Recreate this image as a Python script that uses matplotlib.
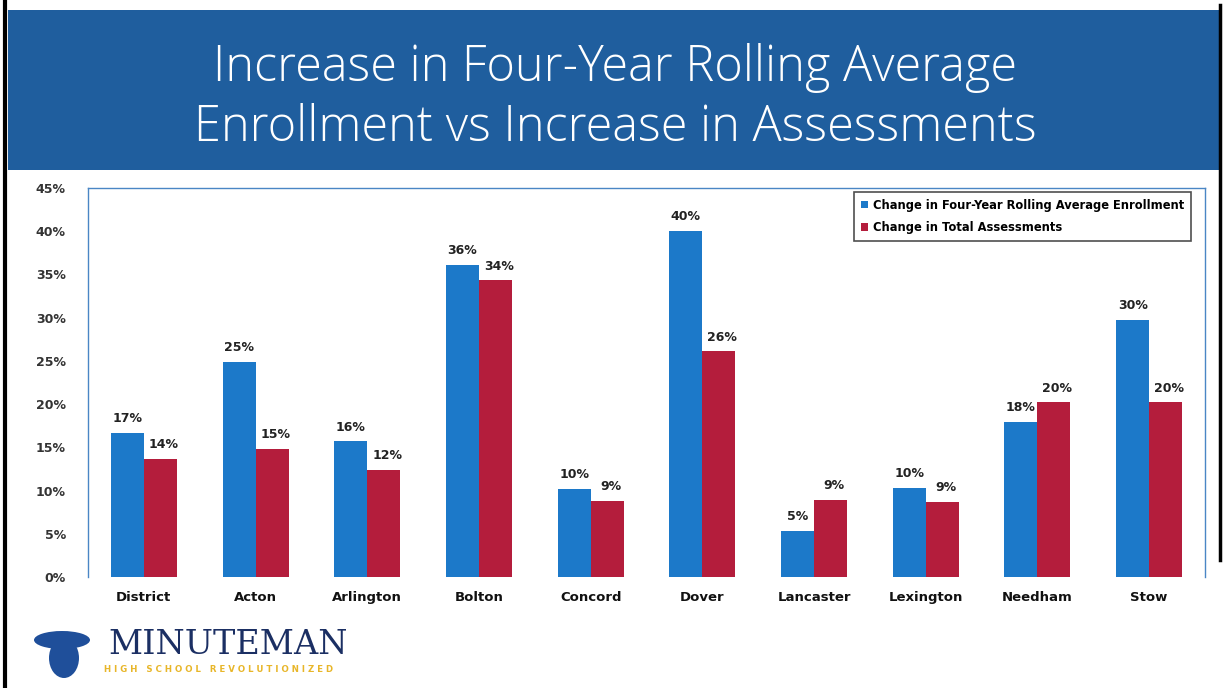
import numpy as np
import matplotlib.pyplot as plt
from matplotlib.patches import Rectangle, Ellipse
from matplotlib.lines import Line2D

towns = ['District', 'Acton', 'Arlington', 'Bolton', 'Concord', 'Dover',
         'Lancaster', 'Lexington', 'Needham', 'Stow']
enrollment = [16.7, 24.9, 15.7, 36.1, 10.2, 40.0, 5.3, 10.3, 17.9, 29.7]
assessments = [13.7, 14.8, 12.4, 34.3, 8.8, 26.1, 8.9, 8.7, 20.2, 20.2]
enroll_labels = ['17%', '25%', '16%', '36%', '10%', '40%', '5%', '10%', '18%', '30%']
assess_labels = ['14%', '15%', '12%', '34%', '9%', '26%', '9%', '9%', '20%', '20%']
yticks = [0, 5, 10, 15, 20, 25, 30, 35, 40, 45]

blue = '#1c79c9'
red = '#b41d3c'

fig = plt.figure(figsize=(12.24, 6.88), dpi=100)
W, H = 1224, 688

# title banner
fig.patches.append(Rectangle((8 / W, 1 - 170 / H), 1212 / W, 160 / H,
                             transform=fig.transFigure, facecolor='#1f5e9e',
                             edgecolor='none', zorder=0))
fig.text(615 / W, 1 - 68 / H, 'Increase in Four-Year Rolling Average',
         color='white', fontsize=35, ha='center', va='center', family='Open Sans',
         fontweight='light')
fig.text(615 / W, 1 - 128 / H, 'Enrollment vs Increase in Assessments',
         color='white', fontsize=35, ha='center', va='center', family='Open Sans',
         fontweight='light')

# slide border lines
fig.lines.append(Line2D([5 / W, 5 / W], [0, 1], transform=fig.transFigure,
                        color='black', lw=3))
fig.lines.append(Line2D([1220 / W, 1220 / W], [1 - 560 / H, 1 - 5 / H],
                        transform=fig.transFigure, color='black', lw=2.5))

ax = fig.add_axes([88 / W, 1 - 577 / H, (1205 - 88) / W, (577 - 188) / H])
x = np.arange(len(towns))
bw = 0.295
ax.bar(x - bw / 2, enrollment, bw, color=blue,
       label='Change in Four-Year Rolling Average Enrollment')
ax.bar(x + bw / 2, assessments, bw, color=red, label='Change in Total Assessments')

for i in range(len(towns)):
    ax.text(x[i] - bw / 2, enrollment[i] + 0.9, enroll_labels[i], ha='center',
            va='bottom', fontsize=9, fontweight='bold', color='#222222')
    ax.text(x[i] + bw / 2 + 0.03, assessments[i] + 0.9, assess_labels[i], ha='center',
            va='bottom', fontsize=9, fontweight='bold', color='#222222')

ax.set_xlim(-0.5, len(towns) - 0.5)
ax.set_ylim(0, 45)
ax.set_yticks(yticks)
ax.set_yticklabels([f'{v}%' for v in yticks], fontsize=9, fontweight='bold',
                   color='#333333')
ax.set_xticks(x)
ax.set_xticklabels(towns, fontsize=9.5, fontweight='bold', color='#111111')
ax.tick_params(length=0, pad=10)
ax.tick_params(axis='y', pad=16)
for s in ax.spines.values():
    s.set_color('#4a86c5')
    s.set_linewidth(1)
ax.spines['bottom'].set_visible(False)

leg = ax.legend(loc='upper right', bbox_to_anchor=(0.9925, 1.005),
                prop={'weight': 'bold', 'size': 8.3}, frameon=True, fancybox=False,
                handlelength=0.6, handleheight=0.6, handletextpad=0.4,
                borderpad=0.6, labelspacing=0.8)
leg.get_frame().set_edgecolor('#222222')
leg.get_frame().set_linewidth(1.2)

# logo
fig.text(108 / W, 1 - 645 / H, 'MINUTEMAN', color='#1b2f63', fontsize=24,
         family='DejaVu Serif', ha='left', va='center')
fig.text(104 / W, 1 - 669 / H, 'H I G H   S C H O O L   R E V O L U T I O N I Z E D',
         color='#e8b629', fontsize=6.2, fontweight='bold', ha='left', va='center')
fig.patches.append(Ellipse((62 / W, 1 - 640 / H), 56 / W, 18 / H,
                           transform=fig.transFigure, facecolor='#1f4f9a',
                           edgecolor='none'))
fig.patches.append(Ellipse((64 / W, 1 - 658 / H), 30 / W, 40 / H,
                           transform=fig.transFigure, facecolor='#1f4f9a',
                           edgecolor='none'))

fig.savefig('out.png', dpi=100)
